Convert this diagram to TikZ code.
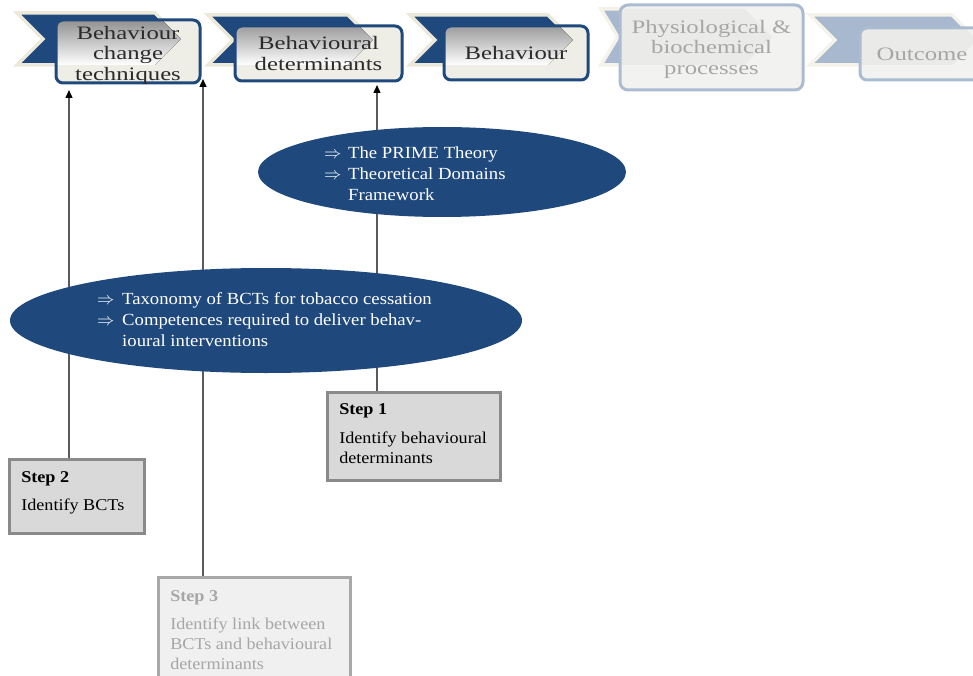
\documentclass[tikz,border=0pt]{standalone}
\usepackage{fontspec}
\setmainfont{Liberation Serif}
\newfontfamily\labelfont[FakeStretch=1.3]{Liberation Serif}
\newfontfamily\bodyfont[FakeStretch=1.1]{Liberation Serif}
\usetikzlibrary{arrows.meta,shapes.geometric}

\definecolor{navy}{HTML}{1F497D}
\definecolor{glow}{HTML}{ECE9DA}
\definecolor{cream}{HTML}{EFEEE6}
\definecolor{shade}{HTML}{E0E1DD}
\definecolor{paleblue}{HTML}{A7B8CF}
\definecolor{paleedge}{HTML}{ABBBD2}
\definecolor{palefill}{HTML}{F2F2F0}
\definecolor{paleshade}{HTML}{EAEAE8}
\definecolor{labeltext}{HTML}{2B2B2B}
\definecolor{fadedtext}{HTML}{A6A6A6}
\definecolor{stepfill}{HTML}{D9D9D9}
\definecolor{stepedge}{HTML}{8A8A8A}
\definecolor{fadedfill}{HTML}{F0F0F0}
\definecolor{fadededge}{HTML}{A8A8A8}
\definecolor{wire}{HTML}{5A5A5A}

% chevron: left x, right corner x, top y, bottom y, point depth
\newcommand\chevronpath[5]{(#1,#3) -- (#2,#3) -- ({#2+#5},{(#3+#4)/2}) -- (#2,#4) -- (#1,#4) -- ({#1+#5},{(#3+#4)/2}) -- cycle}
\newcommand\darr{\makebox[13pt][l]{\raisebox{0.6pt}{\fontsize{16}{16}\selectfont$\Rightarrow$}}}

\tikzset{
  chev/.style={fill=navy, draw=glow, line width=3.5pt, line join=miter},
  palechev/.style={fill=paleblue, draw=glow!60!white, line width=3.5pt, line join=miter},
  stage/.style={draw=navy, line width=3pt, rounded corners=7pt, inner sep=0pt,
    align=center, text=labeltext, font=\labelfont\fontsize{19}{20.5}\selectfont},
  palestage/.style={stage, draw=paleedge, text=fadedtext},
  stepbox/.style={draw=stepedge, fill=stepfill, line width=2.5pt, inner xsep=12pt,
    inner ysep=0pt, anchor=north west, text=black, font=\bodyfont\fontsize{16.5}{20}\selectfont},
  fadedstep/.style={stepbox, draw=fadededge, fill=fadedfill, text=fadedtext},
  blob/.style={ellipse, fill=navy, inner sep=0pt},
  blobtext/.style={anchor=north west, inner sep=0pt, text=white,
    font=\bodyfont\fontsize{17}{21}\selectfont},
  conn/.style={draw=wire, line width=1.3pt, -{Triangle[width=7pt,length=8pt,color=black]}}
}

\begin{document}
\begin{tikzpicture}[x=1pt, y=-1pt]
\useasboundingbox (0,0) rectangle (973,676);
\clip (0,0) rectangle (973,676);

% ---- stage 1: Behaviour change techniques
\path[chev] \chevronpath{17}{155}{13}{65}{26};
\fill[cream, rounded corners=7pt] (56,20) rectangle (200,83);
\begin{scope}
  \clip[rounded corners=7pt] (56,20) rectangle (200,83);
  \fill[shade] \chevronpath{17}{155}{13}{65}{26};
\end{scope}
\node[stage, minimum width=144pt, minimum height=63pt, text height=58pt, text depth=0pt]
  (b1) at (128,51.5) {Behaviour\\change\\techniques};

% ---- stage 2: Behavioural determinants
\path[chev] \chevronpath{208}{348}{15}{65}{25};
\fill[cream, rounded corners=7pt] (235,26) rectangle (402,81);
\begin{scope}
  \clip[rounded corners=7pt] (235,26) rectangle (402,81);
  \fill[shade] \chevronpath{208}{348}{15}{65}{25};
\end{scope}
\node[stage, minimum width=167pt, minimum height=55pt] (b2) at (318.5,53.5)
  {Behavioural\\determinants};

% ---- stage 3: Behaviour
\path[chev] \chevronpath{410}{548}{15}{65}{25};
\fill[cream, rounded corners=7pt] (444,26) rectangle (588,80);
\begin{scope}
  \clip[rounded corners=7pt] (444,26) rectangle (588,80);
  \fill[shade] \chevronpath{410}{548}{15}{65}{25};
\end{scope}
\node[stage, minimum width=144pt, minimum height=54pt] (b3) at (516,53) {Behaviour};

% ---- stage 4: Physiological & biochemical processes
\path[palechev] (601,9) -- (745,9) -- (772,37) -- (745,65) -- (601,65) -- (618,37) -- cycle;
\fill[palefill, rounded corners=8pt] (620,5) rectangle (803,90);
\begin{scope}
  \clip[rounded corners=8pt] (620,5) rectangle (803,90);
  \fill[paleshade] (601,9) -- (745,9) -- (772,37) -- (745,65) -- (601,65) -- (618,37) -- cycle;
\end{scope}
\node[palestage, minimum width=183pt, minimum height=85pt, rounded corners=8pt,
  text height=54pt, text depth=0pt]
  (b4) at (711.5,47.5) {Physiological \&\\biochemical\\processes};

% ---- stage 5: Outcome
\path[palechev] \chevronpath{810}{952}{15}{65}{25};
\fill[palefill, rounded corners=7pt] (860,28) rectangle (984,80);
\begin{scope}
  \clip[rounded corners=7pt] (860,28) rectangle (984,80);
  \fill[paleshade] \chevronpath{810}{952}{15}{65}{25};
\end{scope}
\node[palestage, minimum width=124pt, minimum height=52pt] (b5) at (922,54) {Outcome};

% ---- steps
\node[stepbox] (s1) at (326,391) {\parbox[c][88pt][t]{149pt}{%
  \vspace*{8pt}\strut\textbf{Step 1}\par\vspace{9pt}%
  \strut\mbox{Identify behavioural}\par\strut\mbox{determinants}}};
\node[stepbox] (s2) at (8,458) {\parbox[c][74pt][t]{111pt}{%
  \vspace*{9pt}\strut\textbf{Step 2}\par\vspace{8pt}%
  \strut\mbox{Identify BCTs}}};
\node[fadedstep] (s3) at (157,576) {\parbox[c][120pt][t]{168pt}{%
  \vspace*{10pt}\strut\textbf{Step 3}\par\vspace{8pt}%
  \strut\mbox{Identify link between}\par\strut\mbox{BCTs and behavioural}\par
  \strut\mbox{determinants}}};

% ---- connectors (ends just below the stage boxes)
\coordinate (tip1) at (377,85);
\coordinate (tip2) at (69,90);
\coordinate (tip3) at (203,79);
\draw[conn] (tip1 |- s1.north) -- (tip1);
\draw[conn] (tip2 |- s2.north) -- (tip2);
\draw[conn] (tip3 |- s3.north) -- (tip3);

% ---- theory ellipses
\node[blob, minimum width=368pt, minimum height=90pt] (e1) at (442,172) {};
\node[blobtext] (e1t) at (324,143.8) {%
  \begin{tabular}{@{}l@{\hspace{11pt}}l@{}}
  \darr & The PRIME Theory\\
  \darr & Theoretical Domains\\
        & Framework
  \end{tabular}};

\node[blob, minimum width=512pt, minimum height=105pt] (e2) at (266,320.5) {};
\node[blobtext] (e2t) at (97,289.8) {%
  \begin{tabular}{@{}l@{\hspace{12pt}}l@{}}
  \darr & Taxonomy of BCTs for tobacco cessation\\
  \darr & Competences required to deliver behav-\\
        & ioural interventions
  \end{tabular}};
\end{tikzpicture}
\end{document}
